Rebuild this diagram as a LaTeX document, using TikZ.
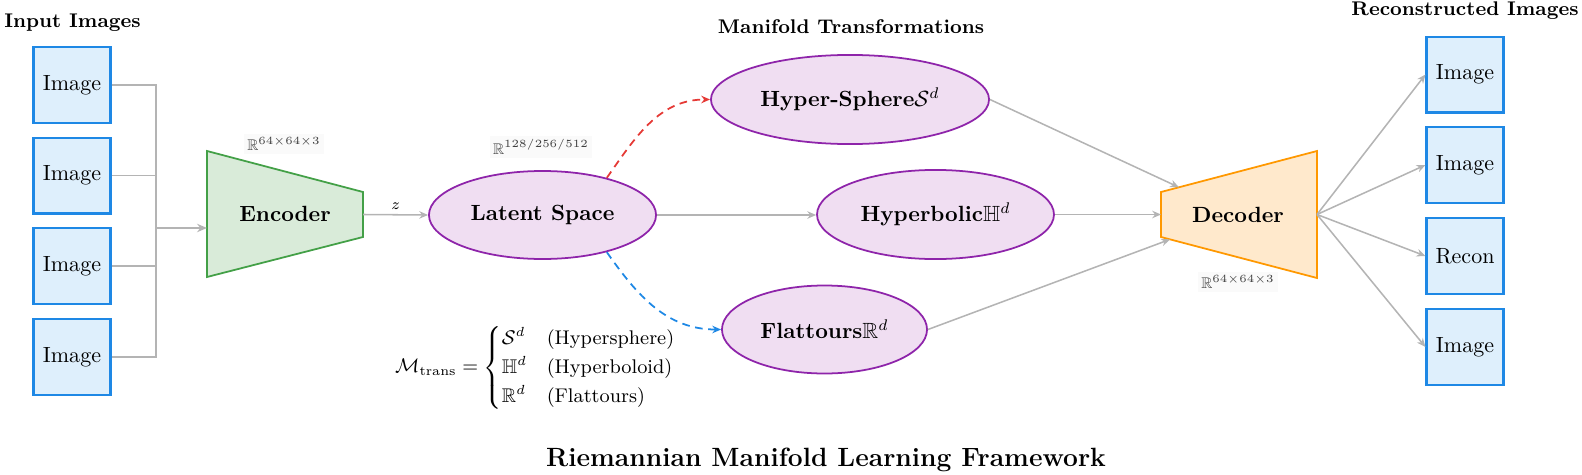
\documentclass[tikz,border=0pt]{standalone}
\usepackage{amsmath,amssymb}
\usetikzlibrary{arrows.meta,shapes.geometric,calc}
\definecolor{boxfill}{RGB}{222,239,252}
\definecolor{boxdraw}{RGB}{30,136,229}
\definecolor{elfill}{RGB}{240,222,242}
\definecolor{eldraw}{RGB}{142,36,170}
\definecolor{encfill}{RGB}{217,235,217}
\definecolor{encdraw}{RGB}{67,160,71}
\definecolor{decfill}{RGB}{255,233,204}
\definecolor{decdraw}{RGB}{255,152,0}
\definecolor{conn}{RGB}{180,180,180}
\definecolor{redarr}{RGB}{229,57,53}
\begin{document}
\begin{tikzpicture}[x=0.4545pt,y=0.4545pt,
  imgbox/.style={draw=boxdraw,fill=boxfill,line width=0.95pt,minimum width=35pt,minimum height=34.5pt,inner sep=0pt},
  manif/.style={ellipse,draw=eldraw,fill=elfill,line width=0.8pt,inner sep=0pt,font=\bfseries},
  flow/.style={draw=conn,line width=0.7pt,-{Stealth[length=4pt,width=3.4pt]}},
  plainline/.style={draw=conn,line width=0.7pt},
  blocktitle/.style={font=\small\bfseries},
  dimlab/.style={font=\scriptsize,text=black!75,fill=gray!4,inner sep=1.5pt},
  dasharr/.style={dashed,dash pattern=on 3.5pt off 2.5pt,line width=0.8pt,-{Stealth[length=4pt,width=3.4pt]}}
]
\useasboundingbox (0,0) rectangle (1582,-475);

% titles
\node[blocktitle] (tin) at (72.5,-22.5) {Input Images};
\node[blocktitle] (tman) at (851,-27) {Manifold Transformations};
\node[blocktitle] (trec) at (1465,-10.5) {Reconstructed Images};
\node[font=\large\bfseries] (tmain) at (826,-460) {Riemannian Manifold Learning Framework};

% input images
\node[imgbox] (in1) at (72,-85) {Image};
\node[imgbox] (in2) at (72,-175.5) {Image};
\node[imgbox] (in3) at (72,-266) {Image};
\node[imgbox] (in4) at (72,-357) {Image};

% encoder
\coordinate (eTL) at (207,-151);
\coordinate (eTR) at (363,-192);
\coordinate (eBR) at (363,-237);
\coordinate (eBL) at (207,-277);
\draw[draw=encdraw,fill=encfill,line width=0.8pt] (eTL) -- (eTR) -- (eBR) -- (eBL) -- cycle;
\node[font=\bfseries] (enc) at (285,-214) {Encoder};
\coordinate (encIn) at (207,-228);
\coordinate (encOut) at (363,-214.5);
\node[dimlab] (encdim) at (284,-144) {$\mathbb{R}^{64\times64\times3}$};

% bus
\coordinate (busT) at (156,-85);
\coordinate (busB) at (156,-357);
\coordinate (busM) at (156,-228);
\draw[plainline] (in1.east) -- (busT) -- (busB) -- (in4.east);
\draw[plainline] (in2.east) -- (in2.east -| busT);
\draw[plainline] (in3.east) -- (in3.east -| busT);
\draw[draw=conn,line width=0.95pt,-{Stealth[length=4.5pt,width=3.8pt]}] (busM) -- (encIn);

% latent
\node[manif,minimum width=103.2pt,minimum height=40pt] (lat) at (542.5,-215) {Latent Space};
\node[dimlab] (latdim) at (541,-147) {$\mathbb{R}^{128/256/512}$};
\draw[flow] (encOut) -- node[above,font=\scriptsize,inner sep=2pt] (zlab) {$z$} (lat.west);

% manifolds
\node[manif,minimum width=126.4pt,minimum height=40.5pt] (hs) at (850,-99.5) {Hyper-Sphere$\mathcal{S}^d$};
\node[manif,minimum width=107.7pt,minimum height=40.5pt] (hyp) at (935.5,-214.5) {Hyperbolic$\mathbb{H}^d$};
\node[manif,minimum width=93.2pt,minimum height=40pt] (flat) at (824.5,-329.5) {Flattours$\mathbb{R}^d$};

\draw[dasharr,draw=redarr] (lat.30) to[out=55,in=180] (hs.west);
\draw[dasharr,draw=boxdraw] (lat.-30) to[out=-55,in=180] (flat.west);
\draw[flow] (lat.east) -- (lat.east -| hyp.west);

% formula
\node[font=\small] (form) at (536,-368) {$\mathcal{M}_{\text{trans}}=\begin{cases}\mathcal{S}^d & \text{(Hypersphere)}\\ \mathbb{H}^d & \text{(Hyperboloid)}\\ \mathbb{R}^d & \text{(Flattours)}\end{cases}$};

% decoder
\coordinate (dTL) at (1161,-192);
\coordinate (dTR) at (1317,-151);
\coordinate (dBR) at (1317,-278);
\coordinate (dBL) at (1161,-237);
\draw[draw=decdraw,fill=decfill,line width=0.8pt] (dTL) -- (dTR) -- (dBR) -- (dBL) -- cycle;
\node[font=\bfseries] (dec) at (1238,-214.5) {Decoder};
\node[dimlab] (decdim) at (1238,-282) {$\mathbb{R}^{64\times64\times3}$};
\coordinate (decL) at (1161,-214.5);
\coordinate (decR) at (1317,-214.5);
\coordinate (decT) at ($(dTL)!0.115!(dTR)$);
\coordinate (decB) at ($(dBL)!0.058!(dBR)$);

\draw[flow] (hs.east) -- (decT);
\draw[flow] (hyp.east) -- (decL);
\draw[flow] (flat.east) -- (decB);

% reconstructed
\node[imgbox] (r1) at (1465,-74.5) {Image};
\node[imgbox] (r2) at (1465,-165) {Image};
\node[imgbox] (r3) at (1465,-256) {Recon};
\node[imgbox] (r4) at (1465,-347) {Image};
\foreach \r in {r1,r2,r3,r4} \draw[flow] (decR) -- (\r.west);
\end{tikzpicture}
\end{document}
